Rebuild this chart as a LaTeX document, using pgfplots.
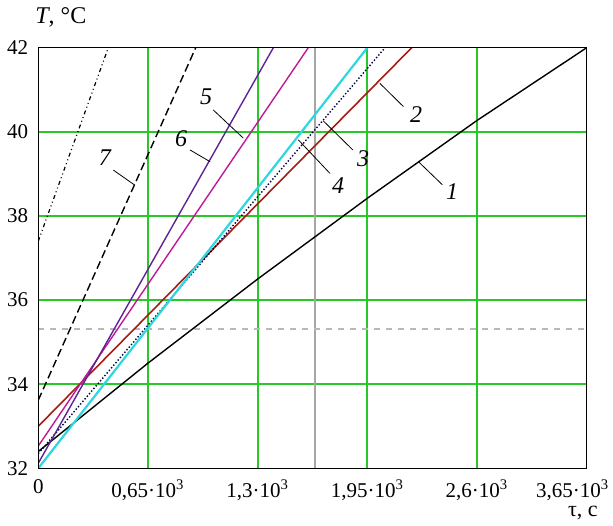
\documentclass[border=0pt]{standalone}
\usepackage{fontspec}
\setmainfont{Liberation Serif}
\usepackage{pgfplots}
\pgfplotsset{compat=1.18}

\definecolor{gridgreen}{RGB}{40,200,40}
\definecolor{line2}{RGB}{165,30,20}
\definecolor{line4}{RGB}{45,215,225}
\definecolor{line5}{RGB}{190,25,150}
\definecolor{line6}{RGB}{95,35,150}

\begin{document}
\begin{tikzpicture}
\begin{axis}[
  scale only axis, width=274.2pt, height=210.3pt,
  xmin=0, xmax=3250, ymin=32, ymax=42,
  xtick={0,650,1300,1950,2600,3250},
  xticklabels={0,{0,65·10\textsuperscript{3}},{1,3·10\textsuperscript{3}},{1,95·10\textsuperscript{3}},{2,6·10\textsuperscript{3}},{\kern-14pt 3,65·10\textsuperscript{3}}},
  ytick={32,34,36,38,40,42},
  /pgf/number format/assume math mode=true,
  major tick length=0pt,
  axis line style={black, line width=0.6pt},
  tick label style={font=\fontsize{10.5}{13}\selectfont},
  xticklabel style={yshift=-2pt},
  yticklabel style={xshift=-1.5pt},
  clip mode=individual,
  axis on top,
]
% grid
\draw[gridgreen, line width=1pt] (axis cs:650,32) -- (axis cs:650,42);
\draw[gridgreen, line width=1pt] (axis cs:1300,32) -- (axis cs:1300,42);
\draw[gridgreen, line width=1pt] (axis cs:1950,32) -- (axis cs:1950,42);
\draw[gridgreen, line width=1pt] (axis cs:2600,32) -- (axis cs:2600,42);
\draw[gridgreen, line width=1pt] (axis cs:0,34) -- (axis cs:3250,34);
\draw[gridgreen, line width=1pt] (axis cs:0,36) -- (axis cs:3250,36);
\draw[gridgreen, line width=1pt] (axis cs:0,38) -- (axis cs:3250,38);
\draw[gridgreen, line width=1pt] (axis cs:0,40) -- (axis cs:3250,40);

% reference lines
\addplot[gray!70, line width=0.7pt] coordinates {(1640,32)(1640,42)};
\addplot[gray!55, dashed, line width=0.6pt] coordinates {(0,35.31)(3250,35.31)};

% curves
\addplot[black, line width=0.7pt] coordinates {(0,32.4)(650,34.5)(1300,36.5)(1950,38.42)(2600,40.27)(3250,42)};
\addplot[line2, line width=0.8pt] coordinates {(0,33.0)(2213,42)};
\addplot[black!75!blue, line width=0.7pt, densely dotted] coordinates {(0,32.35)(2055,42)};
\addplot[line4, line width=1.1pt] coordinates {(0,32.0)(1950,42)};
\addplot[line5, line width=0.7pt] coordinates {(0,32.53)(1600,42)};
\addplot[line6, line width=0.7pt] coordinates {(0,32.12)(1393,42)};
\addplot[black, line width=0.7pt, dash pattern=on 4pt off 2pt] coordinates {(0,33.62)(933,42)};
\addplot[black, line width=0.6pt, dash pattern=on 2pt off 1.5pt on 0.5pt off 1.5pt on 0.5pt off 1.5pt] coordinates {(0,37.4)(415,42)};

% leaders and curve numbers
\draw[black, line width=0.4pt] (axis cs:2395,38.74) -- (axis cs:2253,39.29);
\draw[black, line width=0.4pt] (axis cs:2164,40.60) -- (axis cs:2025,41.15);
\draw[black, line width=0.4pt] (axis cs:1864,39.57) -- (axis cs:1689,40.26);
\draw[black, line width=0.4pt] (axis cs:1729,39.01) -- (axis cs:1541,39.81);
\draw[black, line width=0.4pt] (axis cs:1037,40.52) -- (axis cs:1215,39.85);
\draw[black, line width=0.4pt] (axis cs:899,39.57) -- (axis cs:1018,39.29);
\draw[black, line width=0.4pt] (axis cs:445,39.09) -- (axis cs:573,38.73);
\begin{scope}[every node/.style={font=\itshape\fontsize{12}{14}\selectfont, inner sep=0pt}]
\node at (axis cs:2452,38.57) {1};
\node at (axis cs:2239,40.40) {2};
\node at (axis cs:1925,39.35) {3};
\node at (axis cs:1777,38.71) {4};
\node at (axis cs:994,40.83) {5};
\node at (axis cs:846,39.83) {6};
\node at (axis cs:395,39.38) {7};
\end{scope}

% axis titles
\node[anchor=west, inner sep=0pt, font=\fontsize{12}{14}\selectfont] at (rel axis cs:-0.006,1.073) {\textit{T}, °C};
\node[inner sep=0pt, font=\fontsize{11}{13}\selectfont] at (rel axis cs:0.993,-0.106) {τ, с};

\coordinate (bbl) at (rel axis cs:-0.0698,-0.1348);
\coordinate (btr) at (rel axis cs:1.048,1.1134);
\end{axis}
\pgfresetboundingbox
\path (bbl) rectangle (btr);
\end{tikzpicture}
\end{document}
